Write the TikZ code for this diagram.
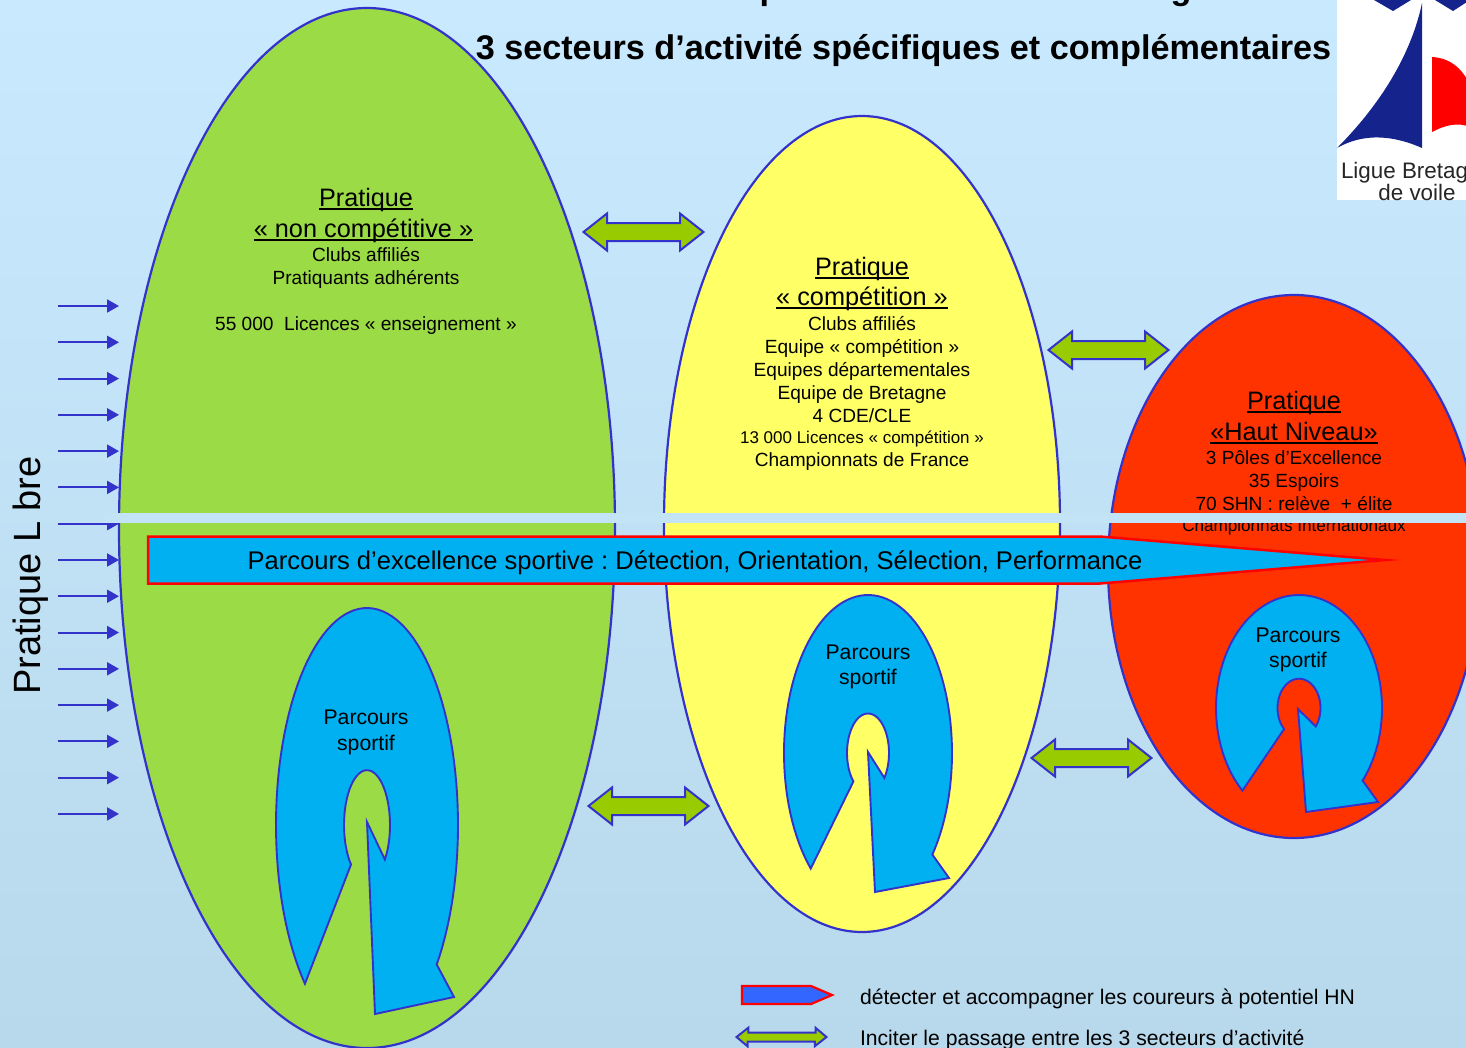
\documentclass[tikz,border=0pt]{standalone}
\usepackage{fontspec}
\setmainfont{Liberation Sans}
\usetikzlibrary{shapes.geometric,arrows.meta}
\definecolor{bgtop}{HTML}{C9E9FF}
\definecolor{bgbot}{HTML}{B8D8EB}
\definecolor{bandc}{HTML}{C3E3F7}
\definecolor{greenc}{HTML}{9BDB46}
\definecolor{yellowc}{HTML}{FFFF66}
\definecolor{redc}{HTML}{FF3300}
\definecolor{bluec}{HTML}{00B0F0}
\definecolor{linec}{HTML}{3333CC}
\definecolor{arrowc}{HTML}{99CC00}
\definecolor{navyc}{HTML}{14248C}
\definecolor{legblue}{HTML}{3366FF}
\frenchspacing
\newcommand\fs[1]{\fontsize{#1}{#1}\selectfont}
\newcommand\ulin[1]{\leavevmode\setbox0\hbox{#1}\rlap{\rule[-3.5pt]{\wd0}{1.5pt}}\box0}
\newcommand\shoe[8]{%
  \draw[shoestyle] plot[variable=\t,domain=133:400,samples=90] ({#1+#3*cos(\t)},{#2+#4*sin(\t)})
    -- #6 -- #7 -- #8
    -- plot[variable=\t,domain=399:134,samples=50] ({#1+#5*cos(\t)},{#2+#5*(#4/#3)*sin(\t)*1.0}) -- cycle;}
\newcommand\dblarrow[4][1]{%
  \draw[dblstyle] (#2+1.5,#4) -- ++(23.5*#1,{-18.5*#1}) -- ++(0,{9.5*#1}) -- (#3-25*#1,#4-9*#1) -- ++(0,{-9.5*#1}) -- (#3-1.5,#4)
   -- ++(-23.5*#1,{18.5*#1}) -- ++(0,{-9.5*#1}) -- (#2+25*#1,#4+9*#1) -- ++(0,{9.5*#1}) -- cycle;}
\tikzset{
  zone/.style={ellipse,draw=linec,line width=2.2pt,inner sep=0pt,outer sep=0pt},
  shoestyle/.style={draw=linec,fill=bluec,line width=1.9pt,line join=miter,miter limit=8},
  dblstyle/.style={draw=linec,fill=arrowc,line width=2pt,miter limit=8},
  inflow/.style={draw=linec,line width=2pt,-{Triangle[length=12pt,width=13pt]}},
  txt/.style={inner sep=0pt,outer sep=0pt,align=center,text=black},
  sporta/.style={txt,font=\fontsize{21.2}{26}\selectfont},
  sportb/.style={txt,font=\fontsize{21.2}{25}\selectfont},
}
\begin{document}
\begin{tikzpicture}[x=1pt,y=-1pt]
\useasboundingbox (0,0) rectangle (1466,1047);
\shade[top color=bgtop,bottom color=bgbot] (0,0) rectangle (1466,1047);

% ellipses
\node[zone,fill=greenc,minimum width=496pt,minimum height=1040pt] (green) at (367,528) {};
\node[zone,fill=yellowc,minimum width=396pt,minimum height=816pt] (yellow) at (862,524) {};
\node[zone,fill=redc,minimum width=372pt,minimum height=543pt] (red) at (1294,566.5) {};

% title
\node[txt,anchor=base] (tp) at (770,-1) {\fs{34.2}\bfseries p};
\node[txt,anchor=base] (tg) at (1181,-1) {\fs{34.2}\bfseries g};
\node[txt,anchor=base] (subtitle) at (903.5,59.5) {\fs{34.2}\bfseries 3 secteurs d’activité spécifiques et complémentaires};

% logo
\begin{scope}
\clip (1337,0) rectangle (1466,200);
\fill[white] (1337,0) rectangle (1466,200);
\fill[navyc] (1422,3) -- (1422,148) .. controls (1395,136) and (1365,132) .. (1337,148)
  .. controls (1375,110) and (1410,60) .. (1422,3) -- cycle;
\fill[red] (1432,57) .. controls (1450,58) and (1462,68) .. (1470,85) -- (1470,127)
  .. controls (1458,122) and (1445,125) .. (1432,132) -- cycle;
\fill[navyc] (1374,0) -- (1393,11) -- (1411,0) -- cycle;
\fill[navyc] (1435,0) -- (1453,11) -- (1470,0) -- cycle;
\node[txt,anchor=base west,text=black!85] (logoa) at (1341,178.5) {\fs{22.4}Ligue Bretag};
\node[txt,anchor=base,text=black!85] (logob) at (1417,200) {\fs{22.4}de voile};
\end{scope}

% zone texts
\node[txt,anchor=base] (g1) at (366,206) {\fs{25.2}\ulin{Pratique}};
\node[txt,anchor=base] (g2) at (363.5,237) {\fs{25.3}\ulin{« non compétitive »}};
\node[txt,anchor=base] (g3) at (366,261) {\fs{19.1}Clubs affiliés};
\node[txt,anchor=base] (g4) at (366,284) {\fs{19.1}Pratiquants adhérents};
\node[txt,anchor=base] (g5) at (366,330) {\fs{19.1}55 000\ \ Licences « enseignement »};

\node[txt,anchor=base] (y1) at (862,275) {\fs{25.2}\ulin{Pratique}};
\node[txt,anchor=base] (y2) at (862,305) {\fs{25.3}\ulin{« compétition »}};
\node[txt,anchor=base] (y3) at (862,330) {\fs{19.1}Clubs affiliés};
\node[txt,anchor=base] (y4) at (862,353) {\fs{19.1}Equipe « compétition »};
\node[txt,anchor=base] (y5) at (862,376) {\fs{19.1}Equipes départementales};
\node[txt,anchor=base] (y6) at (862,399) {\fs{19.1}Equipe de Bretagne};
\node[txt,anchor=base] (y7) at (862,422) {\fs{19.1}4 CDE/CLE};
\node[txt,anchor=base] (y8) at (862,443) {\fs{17}13 000 Licences « compétition »};
\node[txt,anchor=base] (y9) at (862,466) {\fs{19.1}Championnats de France};

\node[txt,anchor=base] (r1) at (1294,409) {\fs{25.2}\ulin{Pratique}};
\node[txt,anchor=base] (r2) at (1294,440) {\fs{25.3}\ulin{«Haut Niveau»}};
\node[txt,anchor=base] (r3) at (1294,464) {\fs{19.1}3 Pôles d’Excellence};
\node[txt,anchor=base] (r4) at (1294,487) {\fs{19.1}35 Espoirs};
\node[txt,anchor=base] (r5) at (1294,510) {\fs{19.1}70 SHN : relève\ \ + élite};
\node[txt,anchor=base] (r6) at (1294,531) {\fs{17.1}Championnats Internationaux};

% inflow arrows
\foreach \i in {0,...,14}{
  \pgfmathsetmacro\yy{306+36.28*\i}
  \coordinate (as\i) at (58,\yy);
  \coordinate (ae\i) at (119,\yy);
  \draw[inflow] (as\i) -- (ae\i);
}

% band
\fill[bandc] (104,512.5) rectangle (1466,523);

% main arrow
\draw[draw=red,fill=bluec,line width=2.5pt,miter limit=20] (148,536.5) -- (1100,536.5) -- (1385,560) -- (1100,583.5) -- (148,583.5) -- cycle;
\node[txt,anchor=base] (main) at (695,569) {\fs{25.55}Parcours d’excellence sportive : Détection, Orientation, Sélection, Performance};

% horseshoes
\shoe{367}{825}{91}{217}{23}{(454,997)}{(375,1014)}{(367,822)}
\shoe{868}{753}{84}{158}{21}{(949,878)}{(875,892)}{(868,752)}
\shoe{1299}{708}{83}{113}{21.5}{(1378,802)}{(1306,812)}{(1298,709)}
\node[sporta] (s1) at (366,732) {Parcours\\sportif};
\node[sportb] (s2) at (868,666.5) {Parcours\\sportif};
\node[sportb] (s3) at (1298,649.5) {Parcours\\sportif};

% double arrows
\dblarrow{582}{705}{232}
\dblarrow{1047}{1170}{350}
\dblarrow{587}{710}{806}
\dblarrow{1030}{1153}{758}

% side label
\node[txt,rotate=90,anchor=base] (libre) at (40,575.5) {\fs{38}Pratique L bre};

% legend
\draw[draw=red,fill=legblue,line width=2.2pt,miter limit=10] (742,986) -- (811,986) -- (832,995) -- (811,1004) -- (742,1004) -- cycle;
\node[txt,anchor=base west] (lega) at (860,1004) {\fs{21.15}détecter et accompagner les coureurs à potentiel HN};
\dblarrow[0.5]{735}{828}{1037}
\node[txt,anchor=base west] (legb) at (860,1045) {\fs{21.15}Inciter le passage entre les 3 secteurs d’activité};
\end{tikzpicture}
\end{document}
